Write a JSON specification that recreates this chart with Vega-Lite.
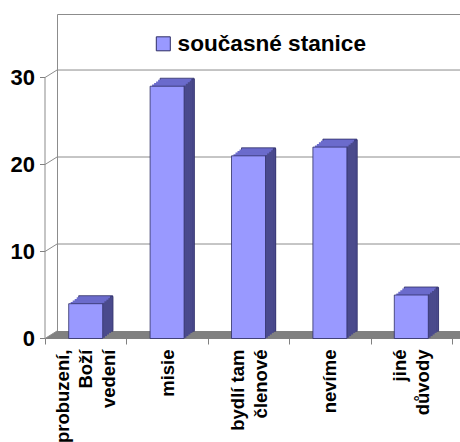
{
  "$schema": "https://vega.github.io/schema/vega-lite/v6.json",
  "autosize": "none",
  "width": 407,
  "height": 317,
  "padding": {"left": 57, "top": 14, "right": 0, "bottom": 111},
  "background": "white",
  "config": {
    "view": {"stroke": "#8c8c8c", "strokeWidth": 1},
    "font": "Liberation Sans"
  },
  "datasets": {
    "bars": [
      {"kategorie": "probuzení, Boží vedení", "pocet": 4, "rada": "současné stanice"},
      {"kategorie": "misie", "pocet": 29, "rada": "současné stanice"},
      {"kategorie": "bydlí tam členové", "pocet": 21, "rada": "současné stanice"},
      {"kategorie": "nevíme", "pocet": 22, "rada": "současné stanice"},
      {"kategorie": "jiné důvody", "pocet": 5, "rada": "současné stanice"}
    ],
    "grid": [
      {"v": 0, "kategorie": "probuzení, Boží vedení"},
      {"v": 10, "kategorie": "probuzení, Boží vedení"},
      {"v": 20, "kategorie": "probuzení, Boží vedení"},
      {"v": 30, "kategorie": "probuzení, Boží vedení"}
    ]
  },
  "data": {"name": "bars"},
  "layer": [
    {
      "data": {"name": "grid"},
      "transform": [{"filter": "datum.v > 0"}],
      "mark": {"type": "rule", "color": "#8c8c8c", "strokeWidth": 1},
      "encoding": {"y": {"field": "v", "type": "quantitative"}}
    },
    {
      "mark": {"type": "rule", "color": "#808080", "strokeWidth": 7.5, "yOffset": 3.75},
      "encoding": {"y": {"datum": 0, "type": "quantitative"}}
    },
    {
      "data": {"name": "grid"},
      "transform": [{"filter": "datum.v == 0"}],
      "mark": {"type": "point", "shape": "M-1,0.625L1,-0.625L1,0.625Z", "size": 144, "filled": true, "color": "#808080", "opacity": 1, "strokeWidth": 0, "xOffset": -46.7, "yOffset": 3.75},
      "encoding": {
        "x": {"field": "kategorie", "type": "nominal", "sort": null},
        "y": {"field": "v", "type": "quantitative"}
      }
    },
    {
      "data": {"name": "grid"},
      "mark": {"type": "point", "shape": "M-1,0.625L1,-0.625", "size": 144, "filled": false, "stroke": "#8c8c8c", "strokeWidth": 1, "opacity": 1, "xOffset": -46.7, "yOffset": 3.75},
      "encoding": {
        "x": {"field": "kategorie", "type": "nominal", "sort": null},
        "y": {"field": "v", "type": "quantitative"}
      }
    },
    {
      "data": {"name": "grid"},
      "transform": [{"filter": "datum.v == 30"}],
      "mark": {"type": "bar", "width": 1, "color": "#8c8c8c", "xOffset": -52.7, "yOffset": 7.5, "y2Offset": 7.5},
      "encoding": {
        "x": {"field": "kategorie", "type": "nominal", "sort": null},
        "y": {"field": "v", "type": "quantitative"}
      }
    },
    {
      "mark": {"type": "bar", "width": 34, "color": "#6b6bcc", "stroke": "#2e2e66", "strokeWidth": 0.8, "xOffset": -2, "yOffset": -0.5, "y2Offset": -0.5},
      "encoding": {"x": {"field": "kategorie", "type": "nominal", "sort": null}, "y": {"field": "pocet", "type": "quantitative"}}
    },
    {
      "mark": {"type": "bar", "width": 34, "color": "#6b6bcc", "xOffset": -4, "yOffset": 1.1, "y2Offset": 1.1},
      "encoding": {"x": {"field": "kategorie", "type": "nominal", "sort": null}, "y": {"field": "pocet", "type": "quantitative"}}
    },
    {
      "mark": {"type": "bar", "width": 34, "color": "#6b6bcc", "xOffset": -6, "yOffset": 2.7, "y2Offset": 2.7},
      "encoding": {"x": {"field": "kategorie", "type": "nominal", "sort": null}, "y": {"field": "pocet", "type": "quantitative"}}
    },
    {
      "mark": {"type": "bar", "width": 34, "color": "#6b6bcc", "xOffset": -8, "yOffset": 4.3, "y2Offset": 4.3},
      "encoding": {"x": {"field": "kategorie", "type": "nominal", "sort": null}, "y": {"field": "pocet", "type": "quantitative"}}
    },
    {
      "mark": {"type": "bar", "width": 34, "color": "#6b6bcc", "xOffset": -10, "yOffset": 5.9, "y2Offset": 5.9},
      "encoding": {"x": {"field": "kategorie", "type": "nominal", "sort": null}, "y": {"field": "pocet", "type": "quantitative"}}
    },
    {
      "mark": {"type": "bar", "width": 2.6, "color": "#4a4a8c", "stroke": "#2e2e66", "strokeWidth": 0.6, "xOffset": 14, "yOffset": 0.3, "y2Offset": 0.3},
      "encoding": {"x": {"field": "kategorie", "type": "nominal", "sort": null}, "y": {"field": "pocet", "type": "quantitative"}}
    },
    {
      "mark": {"type": "bar", "width": 2.6, "color": "#4a4a8c", "xOffset": 12, "yOffset": 1.9, "y2Offset": 1.9},
      "encoding": {"x": {"field": "kategorie", "type": "nominal", "sort": null}, "y": {"field": "pocet", "type": "quantitative"}}
    },
    {
      "mark": {"type": "bar", "width": 2.6, "color": "#4a4a8c", "xOffset": 10, "yOffset": 3.5, "y2Offset": 3.5},
      "encoding": {"x": {"field": "kategorie", "type": "nominal", "sort": null}, "y": {"field": "pocet", "type": "quantitative"}}
    },
    {
      "mark": {"type": "bar", "width": 2.6, "color": "#4a4a8c", "xOffset": 8, "yOffset": 5.1, "y2Offset": 5.1},
      "encoding": {"x": {"field": "kategorie", "type": "nominal", "sort": null}, "y": {"field": "pocet", "type": "quantitative"}}
    },
    {
      "mark": {"type": "bar", "width": 2.6, "color": "#4a4a8c", "xOffset": 6, "yOffset": 6.7, "y2Offset": 6.7},
      "encoding": {"x": {"field": "kategorie", "type": "nominal", "sort": null}, "y": {"field": "pocet", "type": "quantitative"}}
    },
    {
      "mark": {"type": "bar", "width": 34, "stroke": "#2e2e66", "strokeWidth": 0.8, "xOffset": -12, "yOffset": 7.5, "y2Offset": 7.5},
      "encoding": {
        "x": {
          "field": "kategorie", "type": "nominal", "sort": null,
          "scale": {"paddingInner": 0, "paddingOuter": 0},
          "axis": {
            "title": null,
            "orient": "bottom",
            "translate": -11.5,
            "offset": 19,
            "labelAngle": -90,
            "labelFont": "Liberation Sans",
            "labelFontWeight": "bold",
            "labelFontSize": 18.5,
            "labelLineHeight": 23,
            "labelColor": "#000000",
            "labelPadding": 5,
            "labelOverlap": false,
            "labelLimit": 0,
            "labelOffset": {
              "condition": [
                {"test": "datum.value == 'probuzení, Boží vedení'", "value": -23},
                {"test": "datum.value == 'bydlí tam členové' || datum.value == 'jiné důvody'", "value": -11.5}
              ],
              "value": 0
            },
            "tickBand": "extent",
            "tickSize": 6,
            "tickColor": "#808080",
            "domainColor": "#808080",
            "labelExpr": "datum.label == 'probuzení, Boží vedení' ? ['probuzení,', 'Boží', 'vedení'] : datum.label == 'bydlí tam členové' ? ['bydlí tam', 'členové'] : datum.label == 'jiné důvody' ? ['jiné', 'důvody'] : datum.label"
          }
        },
        "y": {
          "field": "pocet", "type": "quantitative",
          "scale": {"domain": [0, 36.44], "nice": false},
          "axis": {
            "title": null,
            "orient": "left",
            "translate": 7.5,
            "offset": 19.5,
            "values": [0, 10, 20, 30],
            "grid": false,
            "domain": false,
            "labelFont": "Liberation Sans",
            "labelFontWeight": "bold",
            "labelFontSize": 22,
            "labelColor": "#000000",
            "labelPadding": 5,
            "tickSize": 5,
            "tickColor": "#808080"
          }
        },
        "color": {
          "field": "rada", "type": "nominal",
          "scale": {"range": ["#9999ff"]},
          "legend": {
            "title": null,
            "orient": "none",
            "legendX": 95,
            "legendY": 18.5,
            "padding": 0,
            "symbolType": "square",
            "symbolSize": 196,
            "symbolStrokeColor": "#2e2e66",
            "symbolStrokeWidth": 1,
            "symbolOpacity": 1,
            "labelFont": "Liberation Sans",
            "labelFontWeight": "bold",
            "labelFontSize": 22.6,
            "labelColor": "#000000",
            "labelOffset": 3,
            "labelLimit": 0
          }
        }
      }
    }
  ]
}
